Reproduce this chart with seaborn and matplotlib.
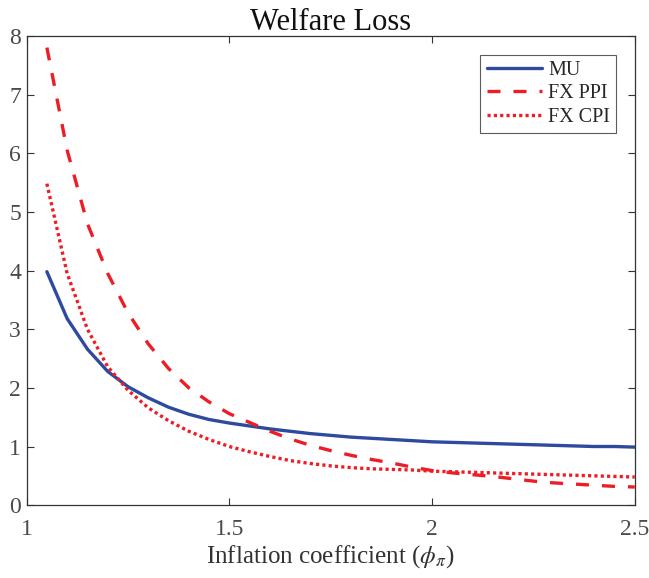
import numpy as np
import pandas as pd
import matplotlib
matplotlib.use("Agg")
import matplotlib.pyplot as plt
import seaborn as sns

# data
phi_pi = [1.05, 1.10, 1.15, 1.20, 1.25, 1.30, 1.35, 1.40, 1.45, 1.50,
          1.55, 1.60, 1.65, 1.70, 1.75, 1.80, 1.85, 1.90, 1.95, 2.00,
          2.05, 2.10, 2.15, 2.20, 2.25, 2.30, 2.35, 2.40, 2.45, 2.50]
mu = [3.98, 3.18, 2.66, 2.28, 2.02, 1.83, 1.67, 1.55, 1.46, 1.40,
      1.35, 1.30, 1.26, 1.22, 1.19, 1.16, 1.14, 1.12, 1.10, 1.08,
      1.07, 1.06, 1.05, 1.04, 1.03, 1.02, 1.01, 1.00, 1.00, 0.99]
fx_ppi = [7.80, 6.05, 4.80, 3.95, 3.28, 2.75, 2.33, 2.00, 1.76, 1.56,
          1.41, 1.26, 1.13, 1.02, 0.93, 0.85, 0.78, 0.72, 0.65, 0.59,
          0.55, 0.52, 0.49, 0.45, 0.41, 0.38, 0.36, 0.34, 0.32, 0.31]
fx_cpi = [5.48, 3.95, 3.00, 2.36, 1.96, 1.66, 1.44, 1.26, 1.12, 1.00,
          0.91, 0.83, 0.76, 0.71, 0.67, 0.64, 0.62, 0.61, 0.60, 0.58,
          0.57, 0.56, 0.55, 0.54, 0.53, 0.52, 0.51, 0.50, 0.49, 0.48]
series_names = ["MU", "FX PPI", "FX CPI"]
x_ticks = [1, 1.5, 2, 2.5]
x_ticklabels = ["1", "1.5", "2", "2.5"]
y_ticks = [0, 1, 2, 3, 4, 5, 6, 7, 8]

sns.set_theme(style="white")
plt.rcParams['font.family'] = ['Liberation Serif', 'DejaVu Serif']
plt.rcParams['mathtext.fontset'] = 'stix'

df = pd.DataFrame({"phi": phi_pi * 3,
                   "loss": mu + fx_ppi + fx_cpi,
                   "series": np.repeat(series_names, len(phi_pi))})

fig = plt.figure(figsize=(6.49, 5.78), dpi=100)
ax = fig.add_axes([0.041, 0.126, 0.937, 0.812])

styles = {"MU": ("#2E4A9E", "-"),
          "FX PPI": ("#EE1D25", (0, (3.9, 3.9))),
          "FX CPI": ("#EE1D25", (0, (0.95, 0.95)))}
for name in series_names:
    col, ls = styles[name]
    sns.lineplot(data=df[df.series == name], x="phi", y="loss", ax=ax,
                 color=col, linestyle=ls, linewidth=2.4, label=name)

ax.set_xlim(1, 2.5)
ax.set_ylim(0, 8)
ax.set_xticks(x_ticks)
ax.set_xticklabels(x_ticklabels)
ax.set_yticks(y_ticks)
ax.tick_params(direction="in", length=5, width=0.8, color="#333333",
               labelsize=17, labelcolor="#4a4a4a",
               top=True, right=True, bottom=True, left=True)
ax.tick_params(axis="x", pad=10)
ax.tick_params(axis="y", pad=4)
for sp in ax.spines.values():
    sp.set_color("#333333")
    sp.set_linewidth(0.9)

ax.set_xlabel(r"Inflation coefficient ($\phi_{\pi}$)", fontsize=18,
              color="#333333", labelpad=2)
ax.set_ylabel("")
ax.set_title("Welfare Loss", fontsize=22, color="#111111", pad=4)

leg = ax.legend(loc="upper right", bbox_to_anchor=(0.969, 0.96),
                fontsize=14.5, frameon=True, fancybox=False,
                handlelength=2.75, handletextpad=0.3, borderpad=0.3,
                labelspacing=0.22, borderaxespad=0)
leg.get_frame().set_edgecolor("#333333")
leg.get_frame().set_linewidth(0.8)

fig.savefig("out.png", dpi=100)
